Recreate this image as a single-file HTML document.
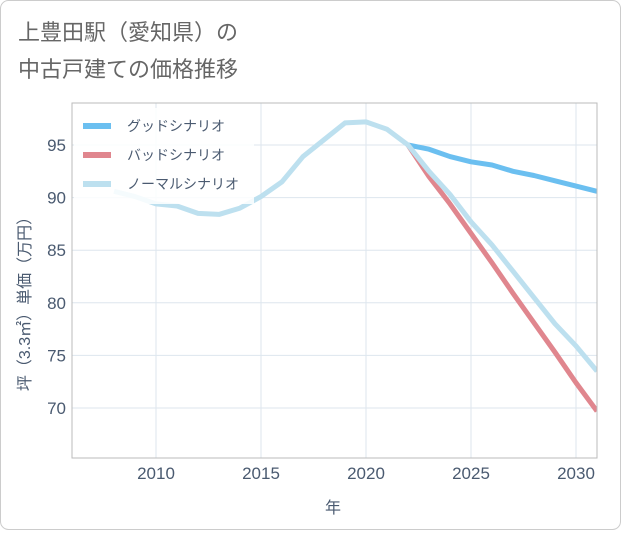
<!DOCTYPE html>
<html><head><meta charset="utf-8"><style>
body{margin:0;background:#fff;font-family:"Liberation Sans","Noto Sans CJK JP",sans-serif;}
</style></head><body>
<svg width="621" height="530">
<rect x="0.5" y="0.5" width="620" height="529" rx="8" fill="#fff" stroke="#ccc"/>
<text x="18" y="40" font-size="22" fill="#666">上豊田駅（愛知県）の</text>
<text x="18" y="77" font-size="22" fill="#666">中古戸建ての価格推移</text>
<g id="grid"></g>
<g id="series"></g>
<rect x="72" y="103" width="525" height="355" fill="none" stroke="#bbb"/>
<g id="legend"></g>
<text x="30" y="300" font-size="16" fill="#4a5a70" transform="rotate(-90 30 300)" text-anchor="middle">坪（3.3㎡）単価（万円）</text>
<text x="333" y="513" font-size="16" fill="#4a5a70" text-anchor="middle">年</text>
</svg>
<script>
const years=[2008,2009,2010,2011,2012,2013,2014,2015,2016,2017,2018,2019,2020,2021,2022,2023,2024,2025,2026,2027,2028,2029,2030,2031];
const normal=[90.6,90.1,89.4,89.2,88.5,88.4,89.0,90.1,91.5,93.9,95.5,97.1,97.2,96.5,95.0,92.5,90.3,87.7,85.5,83.0,80.5,78.0,75.9,73.5];
const goodYears=[2022,2023,2024,2025,2026,2027,2028,2029,2030,2031];
const good=[95.0,94.6,93.9,93.4,93.1,92.5,92.1,91.6,91.1,90.6];
const bad=[95.0,92.0,89.4,86.6,83.8,80.9,78.1,75.3,72.4,69.7];
const xTicks=[2010,2015,2020,2025,2030];
const yTicks=[70,75,80,85,90,95];
const ns="http://www.w3.org/2000/svg";
const X=v=>72+(v-2006)*21, Y=v=>145+(95-v)*10.52;
const grid=document.getElementById('grid'), ser=document.getElementById('series'), leg=document.getElementById('legend');
function mk(p,t,a){const e=document.createElementNS(ns,t);for(const k in a)e.setAttribute(k,a[k]);p.appendChild(e);return e;}
xTicks.forEach(t=>{const l=mk(grid,'line',{x1:X(t),x2:X(t),y1:103,y2:458,stroke:'#dde6ee'});


const tx=mk(grid,'text',{x:X(t),y:479,'font-size':17,fill:'#4a5a70','text-anchor':'middle'});tx.textContent=t;

});
yTicks.forEach(t=>{const l=mk(grid,'line',{x1:72,x2:597,y1:Y(t),y2:Y(t),stroke:'#dde6ee'});


const tx=mk(grid,'text',{x:66,y:Y(t)+6,'font-size':17,fill:'#4a5a70','text-anchor':'end'});tx.textContent=t;

});
function line(xs,vs,c,name){const p=mk(ser,'polyline',{points:xs.map((x,i)=>X(x)+','+Y(vs[i])).join(' '),fill:'none',stroke:c,'stroke-width':5,'stroke-linejoin':'round'});

}
const clip=mk(ser,'clipPath',{id:'cp'});mk(clip,'rect',{x:72,y:103,width:525,height:355});
ser.setAttribute('clip-path','url(#cp)');
line(goodYears,good,'#6bbff0','good-scenario-line');
line(goodYears,bad,'#e0868e','bad-scenario-line');
line(years,normal,'#bde0ef','normal-scenario-line');
const lb=mk(leg,'rect',{x:74,y:108,width:180,height:96,fill:'#fff',opacity:0.85});


[['グッドシナリオ','#6bbff0','legend-good'],['バッドシナリオ','#e0868e','legend-bad'],['ノーマルシナリオ','#bde0ef','legend-normal']].forEach((d,i)=>{
const y=126+i*29;const l=mk(leg,'line',{x1:83,x2:111,y1:y,y2:y,stroke:d[1],'stroke-width':6});


const t=mk(leg,'text',{x:127,y:y+5,'font-size':14,fill:'#4a5a70'});t.textContent=d[0];

});
</script>
</body></html>
